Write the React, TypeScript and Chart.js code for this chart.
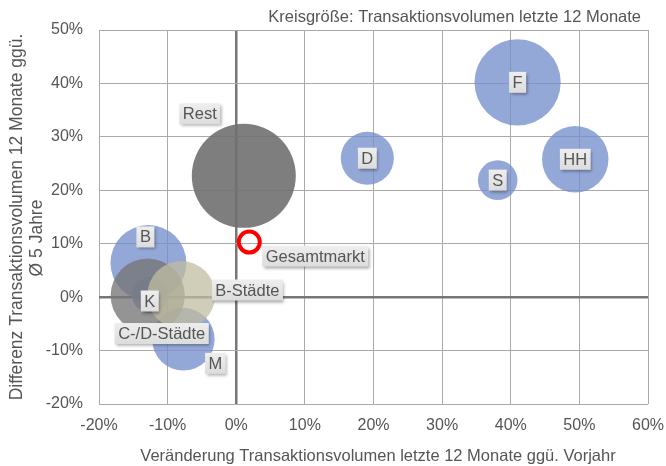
import React, { useEffect, useRef } from "react";
import { Chart, registerables } from "chart.js";

Chart.register(...registerables);

// ---- data ----
const categories = ["Rest", "F", "D", "S", "HH", "B", "K", "M", "C-/D-Städte", "B-Städte"];
const xChange = [1.1, 41.0, 19.1, 38.1, 49.4, -12.8, -12.6, -7.7, -12.9, -8.0];
const yDiff = [22.7, 40.2, 26.0, 21.9, 25.8, 6.4, 0.4, -7.9, 0.3, 0.4];
const volume = [169, 116, 44, 24.5, 69, 90, 20, 61, 86, 72];
const marketLabel = "Gesamtmarkt";
const marketX = [1.9];
const marketY = [10.3];
const xTicks = [-20, -10, 0, 10, 20, 30, 40, 50, 60];
const yTicks = [-20, -10, 0, 10, 20, 30, 40, 50];

const titleText = "Kreisgröße: Transaktionsvolumen letzte 12 Monate";
const xTitle = "Veränderung Transaktionsvolumen letzte 12 Monate ggü. Vorjahr";
const yTitle1 = "Differenz Transaktionsvolumen 12 Monate ggü.";
const yTitle2 = "Ø 5 Jahre";

// ---- styles ----
const BLUE = "rgba(118,144,205,0.78)";
const colorFor: Record<string, string> = {
  Rest: "rgba(112,112,112,0.9)",
  "C-/D-Städte": "rgba(118,118,118,0.78)",
  "B-Städte": "rgba(192,188,160,0.75)",
};
const labelOffsets: Record<string, [number, number]> = {
  Rest: [-44, -62],
  F: [0, 0],
  D: [0, 0],
  S: [0, 0],
  HH: [0, 0],
  B: [-3, -26],
  K: [0, 6],
  M: [32, 24],
  "C-/D-Städte": [14, 38],
  "B-Städte": [66, -5],
  Gesamtmarkt: [66, 14],
};
const FONT = "'Liberation Sans', Arial, sans-serif";
const TXT = "#555555";
const radiusScale = 4;

const labelPlugin = {
  id: "labelsAndTitles",
  afterDatasetsDraw(chart: any) {
    const ctx = chart.ctx;
    ctx.save();
    ctx.font = `16.5px ${FONT}`;
    ctx.textAlign = "center";
    ctx.textBaseline = "middle";
    chart.data.datasets.forEach((ds: any, di: number) => {
      const meta = chart.getDatasetMeta(di);
      meta.data.forEach((el: any, i: number) => {
        const name = ds.names[i];
        const off = labelOffsets[name] || [0, 0];
        const cx = el.x + off[0];
        const cy = el.y + off[1];
        const w = ctx.measureText(name).width + 7;
        const h = 21;
        ctx.save();
        ctx.shadowColor = "rgba(0,0,0,0.35)";
        ctx.shadowBlur = 3;
        ctx.shadowOffsetX = 1.5;
        ctx.shadowOffsetY = 2;
        const g = ctx.createLinearGradient(0, cy - h / 2, 0, cy + h / 2);
        g.addColorStop(0, "#eeeeee");
        g.addColorStop(1, "#dcdcdc");
        ctx.fillStyle = g;
        ctx.fillRect(cx - w / 2, cy - h / 2, w, h);
        ctx.restore();
        ctx.fillStyle = TXT;
        ctx.fillText(name, cx, cy + 1);
      });
    });
    ctx.restore();
  },
  afterDraw(chart: any) {
    const ctx = chart.ctx;
    ctx.save();
    ctx.fillStyle = TXT;
    ctx.font = `16.5px ${FONT}`;
    ctx.textAlign = "right";
    ctx.textBaseline = "middle";
    ctx.fillText(titleText, 641, 17);
    ctx.textAlign = "center";
    ctx.fillText(xTitle, 378, 456);
    ctx.font = `17.5px ${FONT}`;
    ctx.save();
    ctx.translate(17, 217);
    ctx.rotate(-Math.PI / 2);
    ctx.fillText(yTitle1, 0, 0);
    ctx.restore();
    ctx.save();
    ctx.translate(37, 238);
    ctx.rotate(-Math.PI / 2);
    ctx.fillText(yTitle2, 0, 0);
    ctx.restore();
    ctx.restore();
  },
};

export default function App() {
  const ref = useRef<HTMLCanvasElement>(null);
  useEffect(() => {
    if (!ref.current) return;
    const bubbles = categories.map((c, i) => ({
      x: xChange[i],
      y: yDiff[i],
      r: radiusScale * Math.sqrt(volume[i]),
    }));
    const gridColor = (c: any) => (c.tick && c.tick.value === 0 ? "#777777" : "#aaaaaa");
    const gridWidth = (c: any) => (c.tick && c.tick.value === 0 ? 2.5 : 1);
    const chart = new Chart(ref.current, {
      type: "bubble",
      data: {
        datasets: [
          {
            names: categories,
            data: bubbles,
            backgroundColor: categories.map((c) => colorFor[c] || BLUE),
            borderWidth: 0,
            hoverBorderWidth: 0,
          } as any,
          {
            names: [marketLabel],
            data: marketX.map((x, i) => ({ x, y: marketY[i], r: 10.5 })),
            backgroundColor: "rgba(255,255,255,0)",
            borderColor: "#ff0000",
            borderWidth: 4,
          } as any,
        ],
      },
      options: {
        animation: false,
        responsive: false,
        devicePixelRatio: 1,
        layout: { autoPadding: false, padding: { top: 30, right: 18, left: 0, bottom: 0 } },
        plugins: { legend: { display: false }, tooltip: { enabled: false }, title: { display: false } },
        scales: {
          x: {
            type: "linear",
            min: xTicks[0],
            max: xTicks[xTicks.length - 1],
            afterBuildTicks: (s: any) => {
              s.ticks = xTicks.map((v) => ({ value: v }));
            },
            afterFit: (s: any) => {
              s.height = 62;
              s.paddingLeft = 0;
              s.paddingRight = 0;
            },
            grid: { color: gridColor, lineWidth: gridWidth, drawTicks: false },
            border: { display: false },
            ticks: {
              padding: 12,
              color: TXT,
              font: { family: FONT, size: 16 },
              callback: (v: any) => v + "%",
            },
          },
          y: {
            type: "linear",
            min: yTicks[0],
            max: yTicks[yTicks.length - 1],
            afterBuildTicks: (s: any) => {
              s.ticks = yTicks.map((v) => ({ value: v }));
            },
            afterFit: (s: any) => {
              s.width = 99;
              s.paddingTop = 0;
              s.paddingBottom = 0;
            },
            grid: { color: gridColor, lineWidth: gridWidth, drawTicks: false },
            border: { display: false },
            ticks: {
              padding: 16,
              color: TXT,
              font: { family: FONT, size: 16 },
              callback: (v: any) => v + "%",
            },
          },
        },
      } as any,
      plugins: [labelPlugin],
    });
    return () => chart.destroy();
  }, []);
  return (
    <div style={{ position: "absolute", left: 0, top: 0, width: 666, height: 466, background: "#fff" }}>
      <canvas ref={ref} width={666} height={466} />
    </div>
  );
}
